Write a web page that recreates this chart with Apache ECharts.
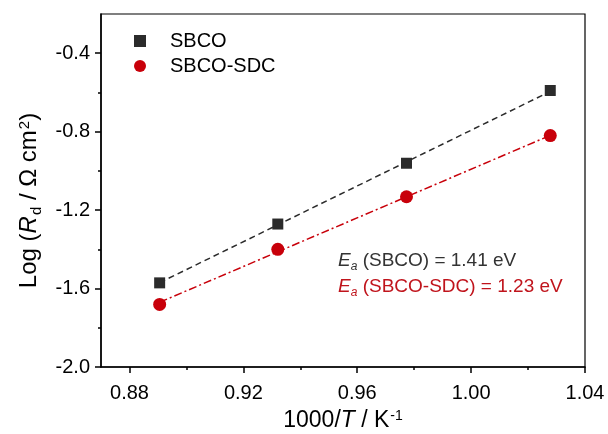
<!DOCTYPE html>
<html>
<head>
<meta charset="utf-8">
<script src="https://cdn.jsdelivr.net/npm/echarts@6/dist/echarts.min.js"></script>
<style>
  html, body { margin: 0; padding: 0; background: #fff; }
  #chart { width: 608px; height: 434px; }
</style>
</head>
<body>
<div id="chart"></div>
<script>
// 1000/T values (K^-1) and log Rd for both cathodes
var invT = [0.8906, 0.9321, 0.9773, 1.0278];
var logRdSbco = [-1.571, -1.271, -0.961, -0.590];
var logRdSdc = [-1.681, -1.400, -1.132, -0.820];

// Arrhenius fit lines, end points
var fitX = [0.8906, 1.0278];
var fitSbco = [-1.570, -0.595];
var fitSdc = [-1.670, -0.819];

// tick positions
var xMajor = [0.88, 0.92, 0.96, 1.00, 1.04];
var xMinor = [0.90, 0.94, 0.98, 1.02];
var yMajor = [-2.0, -1.6, -1.2, -0.8, -0.4];
var yMinor = [-1.8, -1.4, -1.0, -0.6];

var names = ['SBCO', 'SBCO-SDC'];
var annotations = ['(SBCO) = 1.41 eV', '(SBCO-SDC) = 1.23 eV'];

var FONT = '"Liberation Sans", Arial, sans-serif';
var BLACK = '#2b2b2b';
var RED = '#c8000a';
var RED_TEXT = '#c0141c';

function pairs(xs, ys) {
  return xs.map(function (x, i) { return [x, ys[i]]; });
}

function axisBase(min, max) {
  return {
    type: 'value',
    min: min,
    max: max,
    splitLine: { show: false }
  };
}

// rich styles for axis names: everything top aligned, sub pushed down, sup left high
function nameRich(size) {
  var s = Math.round(size * 0.62);
  return {
    n: { fontSize: size, fontFamily: FONT, color: '#000', verticalAlign: 'top' },
    i: { fontSize: size, fontFamily: FONT, fontStyle: 'italic', color: '#000', verticalAlign: 'top' },
    sub: { fontSize: s, fontFamily: FONT, color: '#000', verticalAlign: 'top', padding: [Math.round(size * 0.5), 0, 0, 1] },
    sup: { fontSize: s, fontFamily: FONT, color: '#000', verticalAlign: 'top', padding: [0, 0, 0, 1] }
  };
}

var chart = echarts.init(document.getElementById('chart'), null, { renderer: 'canvas' });

var xMain = axisBase(0.87, 1.04);
Object.assign(xMain, {
  position: 'bottom',
  axisLine: { show: true, onZero: false, lineStyle: { color: '#000', width: 1.5 } },
  axisTick: { show: true, inside: false, length: 6, customValues: xMajor, lineStyle: { color: '#000', width: 1.5 } },
  axisLabel: {
    customValues: xMajor, margin: 16, color: '#000', fontSize: 20, fontFamily: FONT,
    formatter: function (v) { return v.toFixed(2); }
  },
  name: '{n|1000/}{i|T}{n| / K}{sup|-1}',
  nameLocation: 'middle',
  nameGap: 42,
  nameTextStyle: { fontSize: 23, fontFamily: FONT, color: '#000', rich: nameRich(23) }
});

var xMinorAxis = axisBase(0.87, 1.04);
Object.assign(xMinorAxis, {
  position: 'bottom',
  axisLine: { show: false },
  axisTick: { show: true, inside: false, length: 3, customValues: xMinor, lineStyle: { color: '#000', width: 1.5 } },
  axisLabel: { show: false }
});

var yMain = axisBase(-2.0, -0.2);
Object.assign(yMain, {
  position: 'left',
  axisLine: { show: true, onZero: false, lineStyle: { color: '#000', width: 1.5 } },
  axisTick: { show: true, inside: false, length: 6, customValues: yMajor, lineStyle: { color: '#000', width: 1.5 } },
  axisLabel: {
    customValues: yMajor, margin: 11, color: '#000', fontSize: 20, fontFamily: FONT,
    formatter: function (v) { return v.toFixed(1); }
  },
  name: '{n|Log (}{i|R}{sub|d}{n| / Ω cm}{sup|2}{n|)}',
  nameLocation: 'middle',
  nameRotate: 90,
  nameGap: 54,
  nameTextStyle: {
    fontSize: 24, fontFamily: FONT, color: '#000', padding: [0, 20, 0, 0], rich: nameRich(24)
  }
});

var yMinorAxis = axisBase(-2.0, -0.2);
Object.assign(yMinorAxis, {
  position: 'left',
  axisLine: { show: false },
  axisTick: { show: true, inside: false, length: 3, customValues: yMinor, lineStyle: { color: '#000', width: 1.5 } },
  axisLabel: { show: false }
});

function annotation(top, label, color) {
  return {
    type: 'text',
    left: 338,
    top: top,
    style: {
      text: '{i|E}{s|a} {t|' + label + '}',
      font: '19px ' + FONT,
      fill: color,
      rich: {
        i: { fontSize: 19, fontFamily: FONT, fontStyle: 'italic', fill: color, verticalAlign: 'top' },
        s: { fontSize: 12, fontFamily: FONT, fontStyle: 'italic', fill: color, verticalAlign: 'top', padding: [10, 0, 0, 0] },
        t: { fontSize: 19, fontFamily: FONT, fill: color, verticalAlign: 'top' }
      }
    }
  };
}

chart.setOption({
  backgroundColor: '#fff',
  animation: false,
  grid: {
    left: 101, right: 23, top: 14, bottom: 67,
    outerBoundsMode: 'none',
    show: true, borderColor: '#000', borderWidth: 1.2, backgroundColor: 'transparent'
  },
  legend: {
    orient: 'vertical',
    left: 134,
    top: 31,
    padding: 0,
    itemGap: 5,
    itemWidth: 12,
    itemHeight: 12,
    textStyle: { fontSize: 20, fontFamily: FONT, color: '#000', padding: [0, 0, 0, 19] },
    data: [
      { name: names[0], icon: 'rect', itemStyle: { color: BLACK, opacity: 1 } },
      { name: names[1], icon: 'circle', itemStyle: { color: RED, opacity: 1 } }
    ]
  },
  xAxis: [xMain, xMinorAxis],
  yAxis: [yMain, yMinorAxis],
  series: [
    {
      name: 'fit-sbco', type: 'line', symbol: 'none', silent: true,
      data: pairs(fitX, fitSbco),
      lineStyle: { color: BLACK, width: 1.5, type: [6, 4] }
    },
    {
      name: 'fit-sdc', type: 'line', symbol: 'none', silent: true,
      data: pairs(fitX, fitSdc),
      lineStyle: { color: RED, width: 1.5, type: [8, 3, 2, 3] }
    },
    {
      name: names[0], type: 'scatter', symbol: 'rect', symbolSize: 11,
      data: pairs(invT, logRdSbco),
      itemStyle: { color: BLACK, opacity: 1 }, z: 5
    },
    {
      name: names[1], type: 'scatter', symbol: 'circle', symbolSize: 13,
      data: pairs(invT, logRdSdc),
      itemStyle: { color: RED, opacity: 1 }, z: 5
    }
  ],
  graphic: [
    annotation(251, annotations[0], '#333'),
    annotation(277, annotations[1], RED_TEXT)
  ]
});

window.addEventListener('resize', function () { chart.resize(); });
</script>
</body>
</html>
